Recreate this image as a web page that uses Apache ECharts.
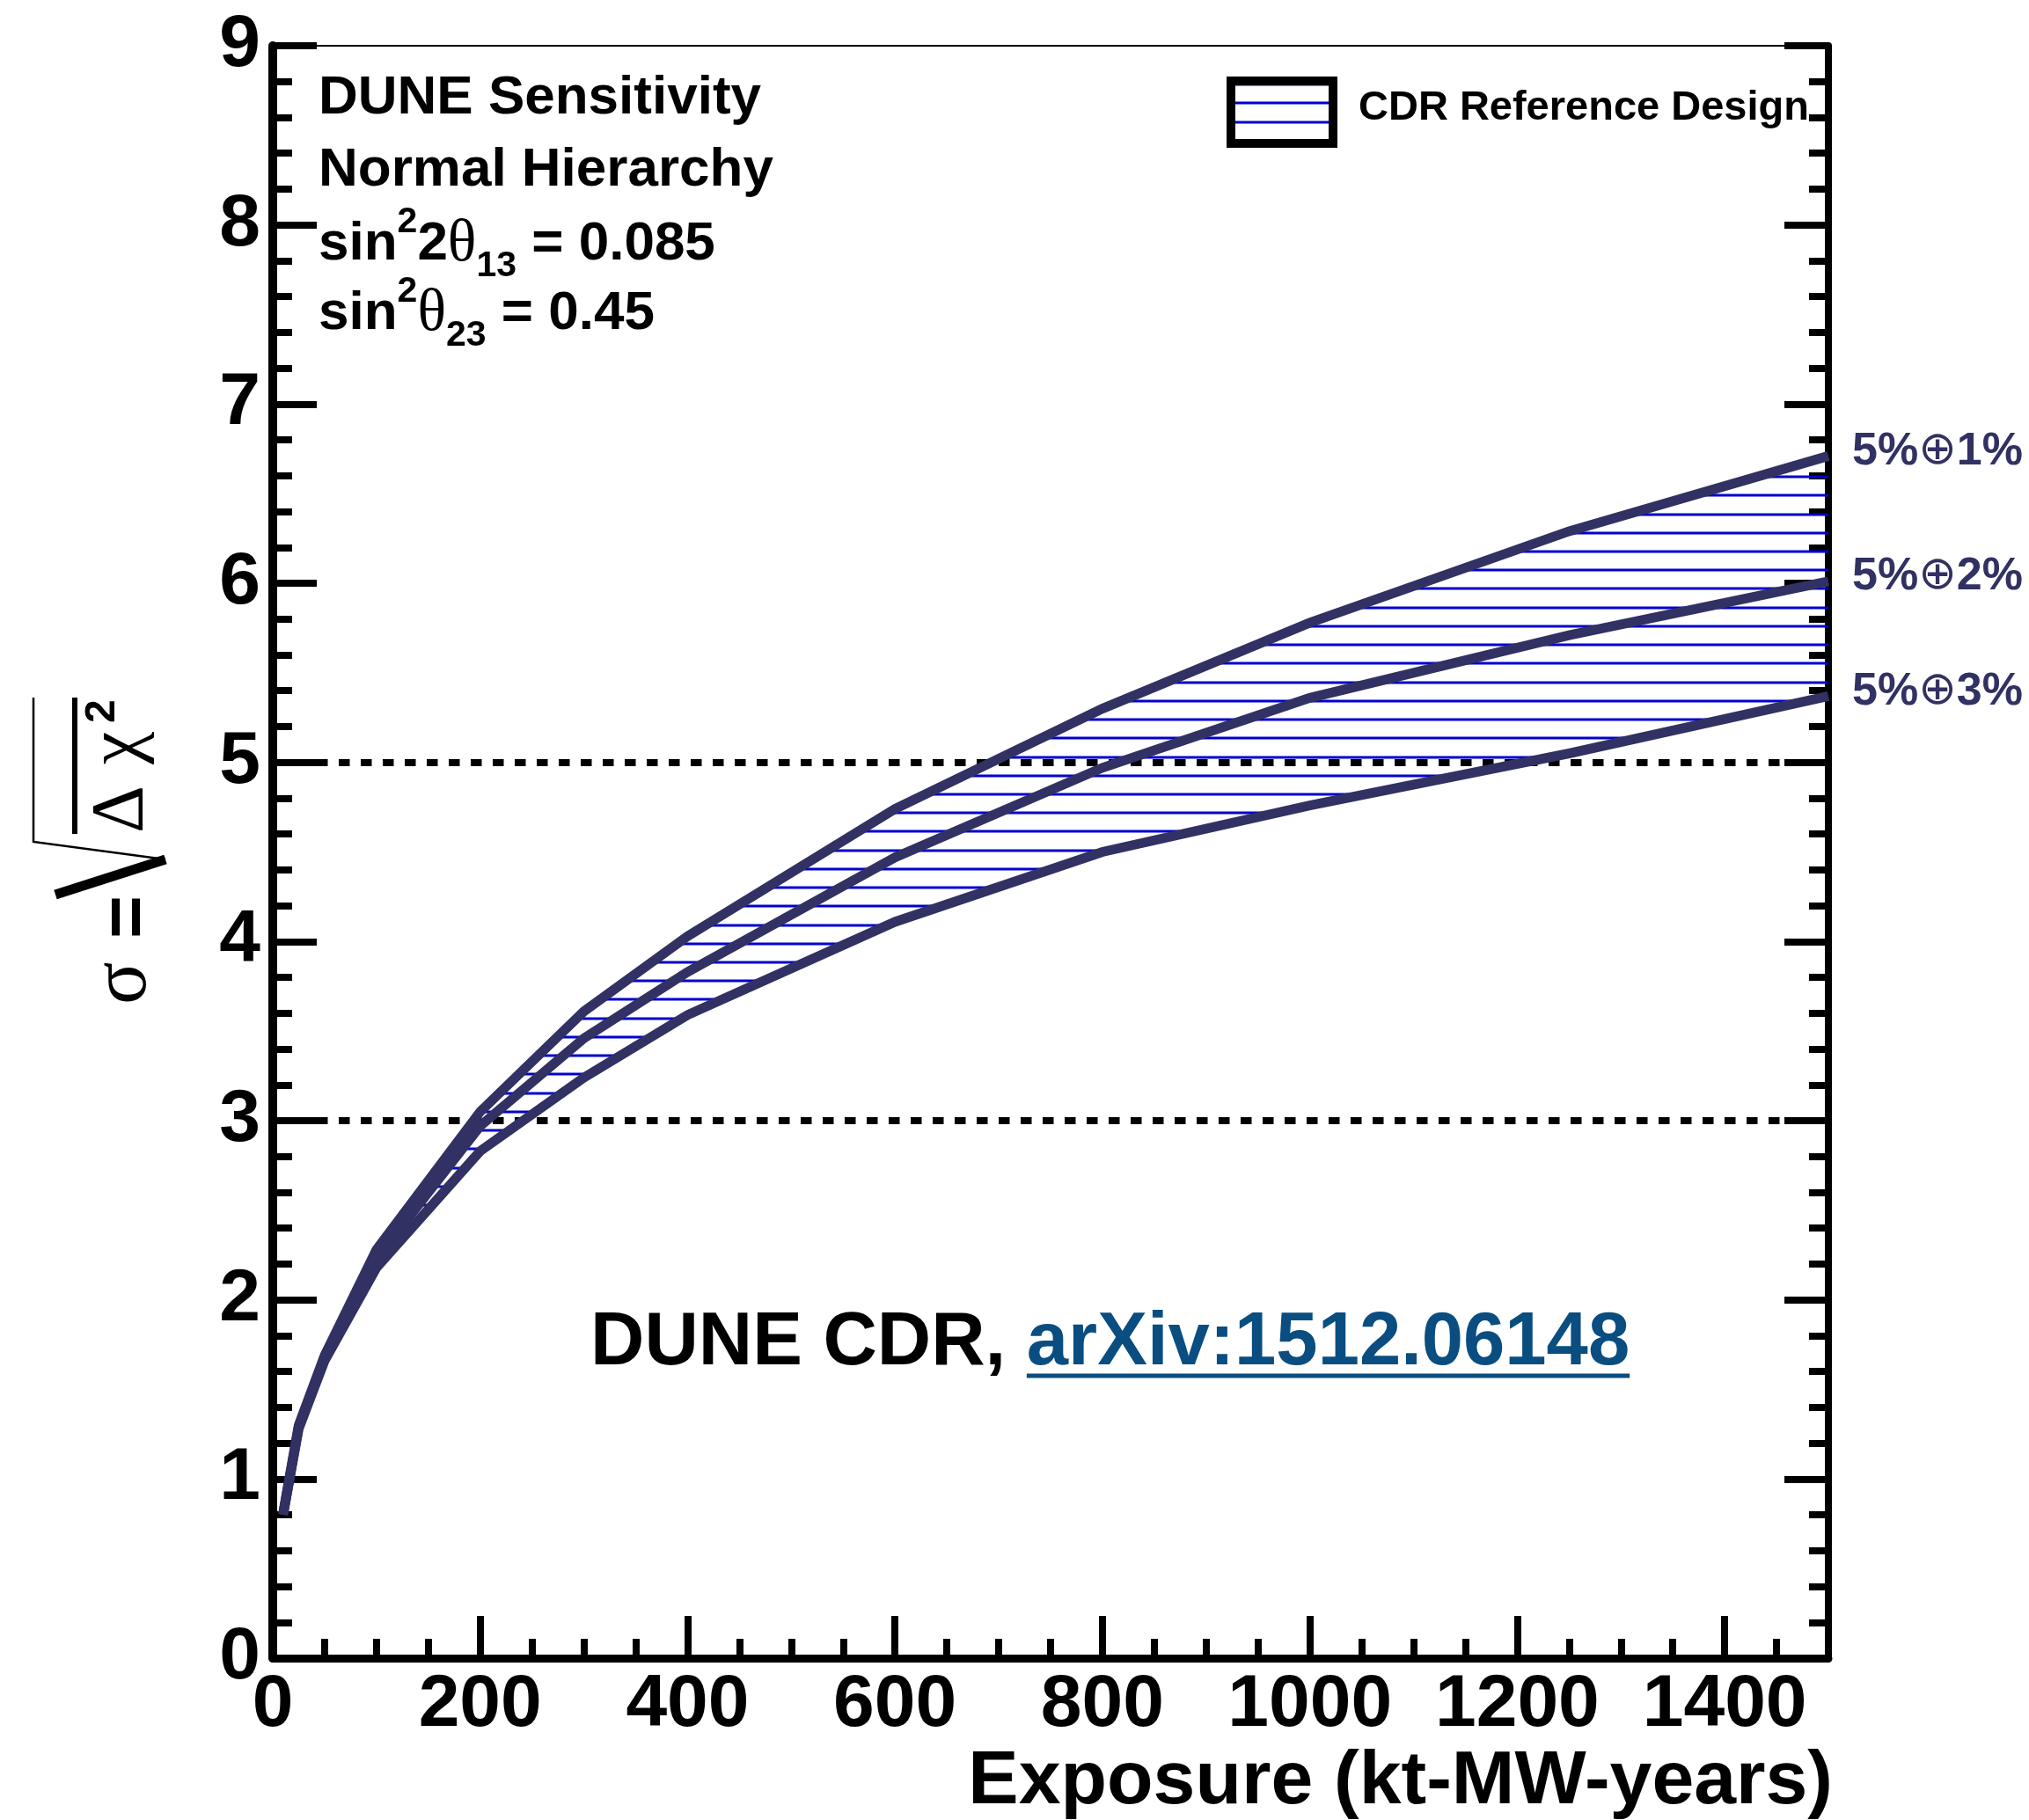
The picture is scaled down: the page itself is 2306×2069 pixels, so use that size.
<!DOCTYPE html>
<html>
<head>
<meta charset="utf-8">
<title>DUNE CDR sensitivity</title>
<script src="https://cdn.jsdelivr.net/npm/echarts@6.0.0/dist/echarts.min.js"></script>
<style>
html,body{margin:0;padding:0;background:#ffffff;}
#chart{width:2306px;height:2069px;}
</style>
</head>
<body>
<div id="chart"></div>
<script>
// ---- values ----
const exposure  = [10, 25, 50, 100, 200, 300, 400, 600, 800, 1000, 1250, 1500];
const sigma_5_1 = [0.81, 1.30, 1.69, 2.28, 3.05, 3.61, 4.03, 4.74, 5.30, 5.78, 6.29, 6.71];
const sigma_5_2 = [0.80, 1.29, 1.68, 2.23, 2.97, 3.46, 3.83, 4.47, 4.97, 5.36, 5.71, 6.01];
const sigma_5_3 = [0.80, 1.28, 1.66, 2.18, 2.83, 3.24, 3.59, 4.11, 4.50, 4.76, 5.05, 5.37];
const curveNames = ['5%⊕1%', '5%⊕2%', '5%⊕3%'];
const referenceSigmas = [3, 5];
const xTickLabels = ['0', '200', '400', '600', '800', '1000', '1200', '1400'];
const yTickLabels = ['0', '1', '2', '3', '4', '5', '6', '7', '8', '9'];
const infoLines = ['DUNE Sensitivity', 'Normal Hierarchy',
  'sin{sup|2}2{th|θ}{sub|13} = 0.085', 'sin{sup|2}{th|θ}{sub|23} = 0.45'];
const legendLabel = 'CDR Reference Design';
const creditText = 'DUNE CDR, ';
const creditLink = 'arXiv:1512.06148';
const xTitle = 'Exposure (kt-MW-years)';

// ---- styling ----
const NAVY = '#313163';
const HATCH = '#0000d0';
const SANS = '"Liberation Sans", Arial, Helvetica, sans-serif';
const SERIF = '"Liberation Serif", "DejaVu Serif", serif';
const G = { left: 310, top: 52, width: 1768, height: 1833 };

function makeHatch() {
  const c = document.createElement('canvas');
  c.width = 4; c.height = 2200;
  const g = c.getContext('2d');
  g.fillStyle = HATCH;
  for (let y = 11.3; y < 2200; y += 21.23) g.fillRect(0, Math.round(y) - 1.5, 4, 3);
  return c;
}
const hatchCanvas = makeHatch();
const hatchFill = { image: hatchCanvas, repeat: 'repeat' };

function measure(text, font) {
  const c = document.createElement('canvas').getContext('2d');
  c.font = font;
  return c.measureText(text).width;
}

const pts = arr => exposure.map((x, i) => [x, arr[i]]);

const chart = echarts.init(document.getElementById('chart'), null, { renderer: 'canvas', width: 2306, height: 2069 });

const tickStyle = { color: '#000', width: 8 };
const curveSeries = [sigma_5_1, sigma_5_2, sigma_5_3].map((arr, k) => ({
  type: 'line', name: curveNames[k], data: pts(arr), xAxisIndex: 0, yAxisIndex: 0,
  showSymbol: false, symbol: 'none', z: 5,
  lineStyle: { color: NAVY, width: 11, join: 'miter' },
  emphasis: { disabled: true },
  endLabel: {
    show: true, distance: 27, offset: [0, -5],
    formatter: p => p.seriesName.replace('⊕', '{op|⊕}'),
    color: NAVY, fontSize: 52, fontWeight: 'bold', fontFamily: SANS,
    rich: { op: { fontFamily: '"DejaVu Sans", sans-serif', fontWeight: 'normal', fontSize: 52, color: NAVY } }
  }
}));
// dashed reference levels
curveSeries[0].markLine = {
  silent: true, symbol: 'none',
  label: { show: false },
  lineStyle: { color: '#000', width: 8, type: [12.5, 12.5], cap: 'butt' },
  emphasis: { disabled: true },
  data: referenceSigmas.map(v => ({ yAxis: v }))
};

// hatched band between the 5%⊕1% and 5%⊕3% curves
const bandSeries = {
  type: 'custom', name: legendLabel, coordinateSystem: 'cartesian2d', xAxisIndex: 0, yAxisIndex: 0,
  data: exposure.map((x, i) => [x, sigma_5_1[i], sigma_5_3[i]]),
  encode: { x: 0, y: [1, 2] },
  silent: true, z: 2,
  renderItem: (params, api) => {
    if (params.dataIndex !== 0) return null;
    const upper = exposure.map((x, i) => api.coord([x, sigma_5_1[i]]));
    const lower = exposure.map((x, i) => api.coord([x, sigma_5_3[i]])).reverse();
    return { type: 'polygon', shape: { points: upper.concat(lower) }, style: { fill: hatchFill, stroke: null } };
  }
};

const creditFont = 'bold 85px ' + SANS;
const w1 = measure(creditText, creditFont);
const w2 = measure(creditLink, creditFont);
const creditX = 671;
const creditY = 1528;

const infoY = [112, 194, 278, 357];

const option = {
  animation: false,
  backgroundColor: '#ffffff',
  grid: { left: G.left, top: G.top, width: G.width, height: G.height, outerBoundsMode: 'none', containLabel: false },
  xAxis: [
    { type: 'value', min: 0, max: 1500, interval: 200, position: 'bottom',
      axisLine: { show: true, onZero: false, lineStyle: { color: '#000', width: 9 } },
      axisTick: { show: true, inside: true, length: 48, lineStyle: tickStyle },
      minorTick: { show: false },
      splitLine: { show: false },
      axisLabel: { show: true, margin: 12, color: '#000', fontSize: 84, fontWeight: 'bold', fontFamily: SANS,
        showMaxLabel: false,
        formatter: v => { const i = Math.round(v / 200); return (Math.abs(v - i * 200) < 1e-6 && i < xTickLabels.length) ? xTickLabels[i] : ''; } } },
    { type: 'value', min: 0, max: 1500, interval: 50, position: 'bottom',
      axisLine: { show: false },
      axisTick: { show: true, inside: true, length: 22, lineStyle: tickStyle },
      splitLine: { show: false }, axisLabel: { show: false } },
    { type: 'value', min: 0, max: 1500, interval: 200, position: 'top',
      axisLine: { show: true, onZero: false, lineStyle: { color: '#000', width: 2 } },
      axisTick: { show: false }, splitLine: { show: false }, axisLabel: { show: false } }
  ],
  yAxis: [
    { type: 'value', min: 0, max: 9, interval: 1, position: 'left',
      axisLine: { show: true, onZero: false, lineStyle: { color: '#000', width: 10 } },
      axisTick: { show: true, inside: true, length: 50, lineStyle: tickStyle },
      minorTick: { show: true, splitNumber: 5, length: 22, lineStyle: tickStyle },
      splitLine: { show: false },
      axisLabel: { show: true, margin: 14, color: '#000', fontSize: 84, fontWeight: 'bold', fontFamily: SANS,
        formatter: v => yTickLabels[Math.round(v)] } },
    { type: 'value', min: 0, max: 9, interval: 1, position: 'right',
      axisLine: { show: true, onZero: false, lineStyle: { color: '#000', width: 8 } },
      axisTick: { show: true, inside: true, length: 50, lineStyle: tickStyle },
      minorTick: { show: true, splitNumber: 5, length: 22, lineStyle: tickStyle },
      splitLine: { show: false }, axisLabel: { show: false } }
  ],
  series: [bandSeries, ...curveSeries],
  graphic: [
    // info text, top left
    ...infoLines.map((t, i) => ({
      type: 'text', x: 362, y: infoY[i], silent: true, z: 10,
      style: {
        text: t, fill: '#000', fontSize: 62, fontWeight: 'bold', fontFamily: SANS,
        lineHeight: 91, align: 'left', verticalAlign: 'middle', textAlign: 'left', textVerticalAlign: 'middle',
        rich: {
          sup: { fontSize: 41, fontWeight: 'bold', fontFamily: SANS, lineHeight: 39, verticalAlign: 'top', fill: '#000' },
          sub: { fontSize: 41, fontWeight: 'bold', fontFamily: SANS, lineHeight: 47, verticalAlign: 'bottom', fill: '#000' },
          th: { fontSize: 68, fontWeight: 'normal', fontFamily: SERIF, lineHeight: 91, fill: '#000' }
        }
      }
    })),
    // legend
    { type: 'rect', shape: { x: 1399, y: 92, width: 116, height: 71 }, z: 10, silent: true,
      style: { fill: hatchFill, stroke: '#000', lineWidth: 10 } },
    { type: 'text', x: 1544, y: 123, z: 10, silent: true,
      style: { text: legendLabel, fill: '#000', font: 'bold 47px ' + SANS, align: 'left', verticalAlign: 'middle', textAlign: 'left', textVerticalAlign: 'middle' } },
    // credit text
    { type: 'text', x: creditX, y: creditY, z: 10, silent: true,
      style: { text: creditText, fill: '#000', font: creditFont, align: 'left', verticalAlign: 'middle', textAlign: 'left', textVerticalAlign: 'middle' } },
    { type: 'text', x: creditX + w1, y: creditY, z: 10, silent: true,
      style: { text: creditLink, fill: '#0a4d80', font: creditFont, align: 'left', verticalAlign: 'middle', textAlign: 'left', textVerticalAlign: 'middle' } },
    { type: 'line', z: 10, silent: true, shape: { x1: creditX + w1, y1: 1564, x2: creditX + w1 + w2, y2: 1564 },
      style: { stroke: '#0a4d80', lineWidth: 5 } },
    // x axis title
    { type: 'text', x: 2083, y: 2026, z: 10, silent: true,
      style: { text: xTitle, fill: '#000', font: 'bold 86px ' + SANS, align: 'right', verticalAlign: 'middle', textAlign: 'right', textVerticalAlign: 'middle' } },
    // y axis title: sigma = sqrt(bar(Delta chi^2)), rotated
    { type: 'group', x: 0, y: 1200, rotation: Math.PI / 2, silent: true, z: 10,
      children: [
        { type: 'text', x: 58, y: 141.6, style: { text: 'σ', fill: '#000', font: '90px ' + SERIF, align: 'left', verticalAlign: 'middle', textAlign: 'left', textVerticalAlign: 'middle' } },
        { type: 'text', x: 133, y: 148, style: { text: '=', fill: '#000', font: 'bold 84px ' + SANS, align: 'left', verticalAlign: 'middle', textAlign: 'left', textVerticalAlign: 'middle' } },
        { type: 'polyline', shape: { points: [[183, 63], [223, 188]] }, style: { stroke: '#000', lineWidth: 11, fill: null } },
        { type: 'polyline', shape: { points: [[223, 188], [243, 38], [407, 38]] }, style: { stroke: '#000', lineWidth: 2.5, fill: null } },
        { type: 'line', shape: { x1: 252, y1: 85, x2: 407, y2: 85 }, style: { stroke: '#000', lineWidth: 6 } },
        { type: 'text', x: 253, y: 139.6, style: { text: 'Δ', fill: '#000', font: '84px ' + SERIF, align: 'left', verticalAlign: 'middle', textAlign: 'left', textVerticalAlign: 'middle' } },
        { type: 'text', x: 331, y: 134.6, style: { text: 'χ', fill: '#000', font: '84px ' + SERIF, align: 'left', verticalAlign: 'middle', textAlign: 'left', textVerticalAlign: 'middle' } },
        { type: 'text', x: 378, y: 116.4, style: { text: '2', fill: '#000', font: 'bold 48px ' + SANS, align: 'left', verticalAlign: 'middle', textAlign: 'left', textVerticalAlign: 'middle' } }
      ] }
  ]
};
chart.setOption(option);
</script>
</body>
</html>
